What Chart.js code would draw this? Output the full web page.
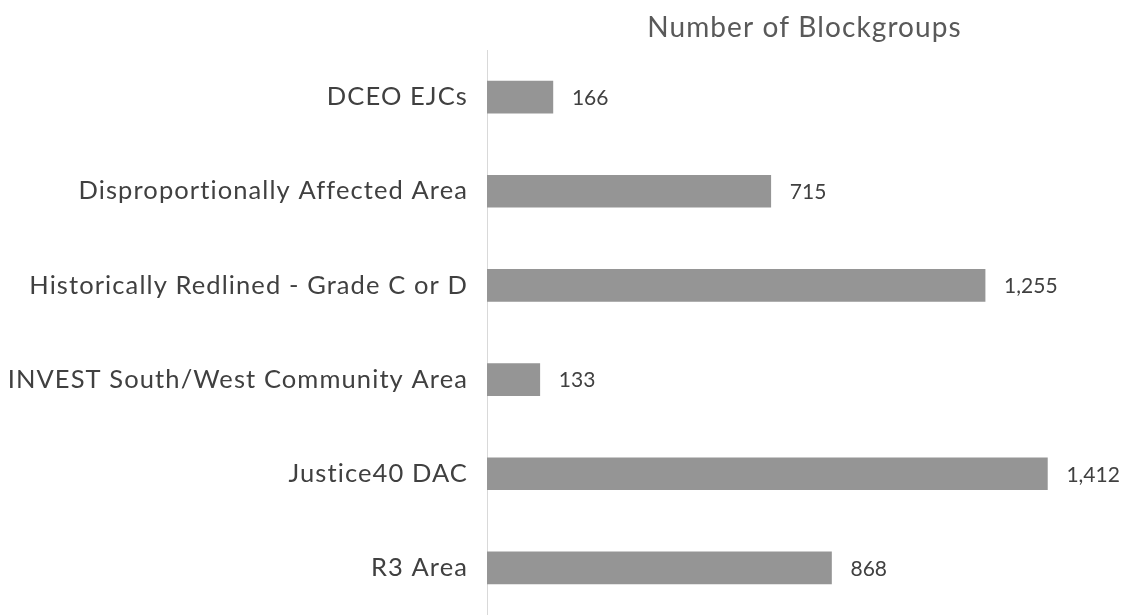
<!DOCTYPE html>
<html>
<head>
<meta charset="utf-8">
<title>Number of Blockgroups</title>
<script src="https://cdn.jsdelivr.net/npm/chart.js@4/dist/chart.umd.min.js"></script>
<style>
  html, body { margin: 0; padding: 0; background: #fff; }
  #wrap { width: 1134px; height: 615px; position: relative; }
</style>
</head>
<body>
<div id="wrap"><canvas id="chart"></canvas></div>
<script>
// chart data
const categories = [
  'DCEO EJCs',
  'Disproportionally Affected Area',
  'Historically Redlined - Grade C or D',
  'INVEST South/West Community Area',
  'Justice40 DAC',
  'R3 Area'
];
const blockgroups = [166, 715, 1255, 133, 1412, 868];
const axisTitle = 'Number of Blockgroups';

// the reference font is a wide, upscaled Calibri, so spread the letters a little.
// set it before each draw: resizing the canvas resets the context state
const spacing = {
  id: 'spacing',
  beforeDraw(chart) { chart.ctx.letterSpacing = '1.1px'; }
};

// draw the value next to the end of each bar
const valueLabels = {
  id: 'valueLabels',
  afterDatasetsDraw(chart) {
    const ctx = chart.ctx;
    const meta = chart.getDatasetMeta(0);
    ctx.save();
    ctx.letterSpacing = '0px';
    ctx.font = '21px Lato';
    ctx.fillStyle = '#404040';
    ctx.textAlign = 'left';
    ctx.textBaseline = 'middle';
    meta.data.forEach((bar, i) => {
      ctx.fillText(blockgroups[i].toLocaleString('en-US'), bar.x + 19, bar.y + 1);
    });
    ctx.restore();
  }
};

const ctx = document.getElementById('chart').getContext('2d');
new Chart(ctx, {
  type: 'bar',
  data: {
    labels: categories,
    datasets: [{
      data: blockgroups,
      backgroundColor: '#959595',
      borderWidth: 0,
      barThickness: 32
    }]
  },
  options: {
    indexAxis: 'y',
    responsive: true,
    maintainAspectRatio: false,
    animation: false,
    layout: { padding: { top: 0, right: 12, bottom: 0, left: 0 } },
    plugins: {
      legend: { display: false },
      tooltip: { enabled: false }
    },
    scales: {
      x: {
        position: 'top',
        min: 0,
        max: 1600,
        ticks: { display: false },
        grid: { display: false },
        border: { display: false },
        title: {
          display: true,
          text: axisTitle,
          color: '#595959',
          font: { family: 'Lato', size: 28 },
          padding: { top: 11, bottom: 0 }
        },
        afterFit(scale) { scale.height = 50; }
      },
      y: {
        grid: { display: false, drawTicks: false },
        border: { display: true, color: '#d9d9d9', width: 1 },
        ticks: {
          color: '#404040',
          font: { family: 'Lato', size: 25.5 },
          padding: 19
        },
        afterFit(scale) {
          scale.width = 487;
          scale.paddingTop = 0;
          scale.paddingBottom = 0;
        }
      }
    }
  },
  plugins: [spacing, valueLabels]
});
</script>
</body>
</html>
